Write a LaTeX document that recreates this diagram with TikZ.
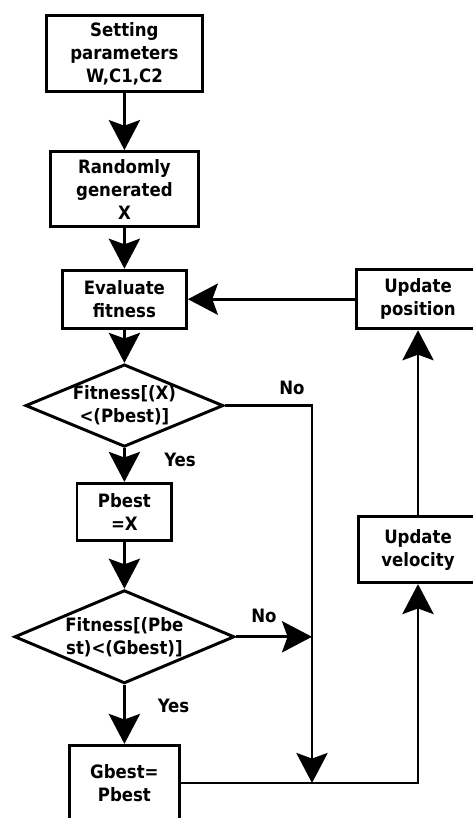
\documentclass[tikz,border=0pt]{standalone}
\usepackage{fontspec}
\setmainfont{DejaVu Sans Condensed}
\usetikzlibrary{shapes.geometric,arrows.meta}

\begin{document}
\begin{tikzpicture}[
  font=\fontsize{13.1}{16.4}\selectfont\bfseries,
  box/.style={draw, line width=2.1pt, align=center, inner sep=0pt},
  decision/.style={diamond, draw, line width=2.1pt, align=center, inner sep=0pt, aspect=2.4},
  flow/.style={line width=2.1pt, -{Stealth[length=0.75cm, width=0.78cm, inset=0.14cm]}}
]
\useasboundingbox (0,0) rectangle (11.8,20.45);
% left column
\node[box, minimum width=3.9cm, minimum height=1.9cm] (setp) at (3.11,19.11) {Setting\\parameters\\W,C1,C2};
\node[box, minimum width=3.7cm, minimum height=1.88cm] (rand) at (3.11,15.72) {Randomly\\generated\\X};
\node[box, minimum width=3.1cm, minimum height=1.45cm] (eval) at (3.11,12.97) {Evaluate\\fitness};
\node[decision, minimum width=4.8cm, minimum height=1.9cm] (cmpp) at (3.11,10.31) {Fitness[(X)\\<(Pbest)]};
\node[box, minimum width=2.37cm, minimum height=1.43cm] (pbst) at (3.11,7.65) {Pbest\\=X};
\node[decision, minimum width=5.5cm, minimum height=2.33cm] (cmpg) at (3.11,4.53) {Fitness[(Pbe\\st)<(Gbest)]};
\node[box, minimum width=2.75cm, minimum height=1.88cm] (gbst) at (3.11,0.875) {Gbest=\\Pbest};
% right column
\node[box, minimum width=3.08cm, minimum height=1.48cm] (upos) at (10.45,12.97) {Update\\position};
\node[box, minimum width=2.98cm, minimum height=1.65cm] (uvel) at (10.45,6.71) {Update\\velocity};
\coordinate (jn) at (7.8,0.875);
% branch labels
\node (no1) at (7.3,10.75) {No};
\node (yes1) at (4.5,8.95) {Yes};
\node (no2) at (6.6,5.05) {No};
\node (yes2) at (4.34,2.8) {Yes};
% connectors
\draw[flow] (setp) -- (rand);
\draw[flow] (rand) -- (eval);
\draw[flow] (eval) -- (cmpp);
\draw[flow] (cmpp) -- (pbst);
\draw[flow] (pbst) -- (cmpg);
\draw[flow] (cmpg) -- (gbst);
\draw[flow] (cmpp.east) -| (jn);
\draw[flow] (cmpg.east) -- (cmpg.east -| jn);
\draw[flow] (gbst.east) -| (uvel.south);
\draw[flow] (uvel) -- (upos);
\draw[flow] (upos) -- (eval);
\end{tikzpicture}
\end{document}
